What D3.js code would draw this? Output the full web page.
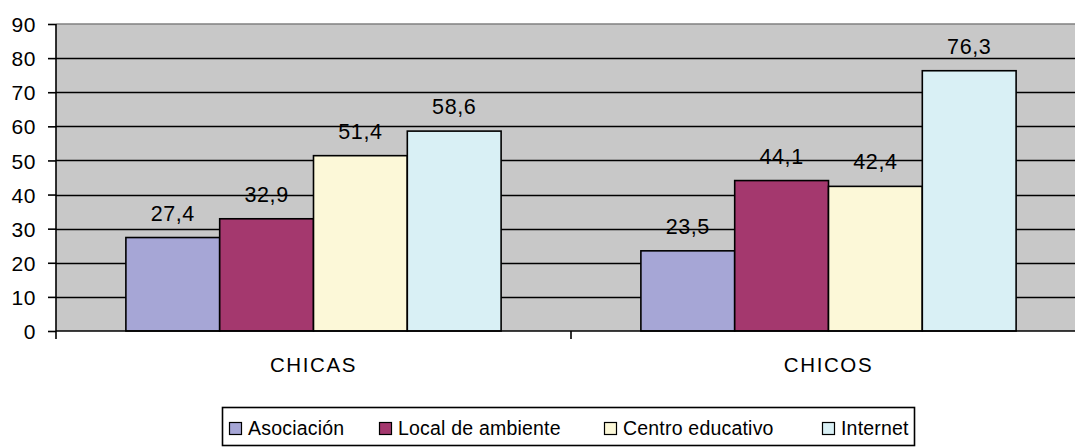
<!DOCTYPE html>
<html><head><meta charset="utf-8">
<script src="https://cdn.jsdelivr.net/npm/d3@7"></script>
<style>body{margin:0;background:#fff;}svg{display:block;font-family:"Liberation Sans",Arial,sans-serif;}</style>
</head><body><svg id="c" width="1075" height="447"></svg>
<script>
const categories = ["CHICAS", "CHICOS"];
const seriesNames = ["Asociación", "Local de ambiente", "Centro educativo", "Internet"];
const asociacion = [27.4, 23.5];
const localAmbiente = [32.9, 44.1];
const centroEducativo = [51.4, 42.4];
const internet = [58.6, 76.3];
const yTicks = [0, 10, 20, 30, 40, 50, 60, 70, 80, 90];
const colors = ["#a6a6d6", "#a4386e", "#fcf8d8", "#d9f0f5"];

const series = [asociacion, localAmbiente, centroEducativo, internet];
const svg = d3.select("#c");
const L = 56, R = 1086, T = 24, B = 331;
const FF = "Liberation Sans, Arial, sans-serif";
const x0 = d3.scaleBand().domain(categories).range([L, R]).paddingInner(0).paddingOuter(0);
const x1 = d3.scaleBand().domain(seriesNames).range([0, x0.bandwidth()]).paddingOuter(0.745).paddingInner(0);
const y = d3.scaleLinear().domain([0, 90]).range([B, T]);

svg.append("rect").attr("x", L).attr("y", T).attr("width", R - L).attr("height", B - T).attr("fill", "#c8c8c8");
svg.append("line").attr("x1", L).attr("x2", R).attr("y1", T).attr("y2", T).attr("stroke", "#808080").attr("stroke-width", 1.5);

// gridlines
svg.append("g").selectAll("line").data(yTicks.filter(d => d > 0 && d < 90)).join("line")
  .attr("x1", L).attr("x2", R).attr("y1", d => Math.round(y(d)) + 0.5).attr("y2", d => Math.round(y(d)) + 0.5)
  .attr("stroke", "#000").attr("stroke-width", 1.6);

// bars
const g = svg.append("g");
categories.forEach((c, ci) => {
  series.forEach((s, si) => {
    const xb = x0(c) + x1(seriesNames[si]);
    g.append("rect").attr("x", xb).attr("y", y(s[ci])).attr("width", x1.bandwidth()).attr("height", B - y(s[ci]))
      .attr("fill", colors[si]).attr("stroke", "#000").attr("stroke-width", 1.6);
    g.append("text").attr("x", xb + x1.bandwidth() / 2).attr("y", y(s[ci]) - 17)
      .attr("text-anchor", "middle").attr("font-size", 21.5).attr("letter-spacing", 0.6).attr("fill", "#000")
      .text(String(s[ci]).replace(".", ","));
  });
});

// y axis
const yAxis = d3.axisLeft(y).tickValues(yTicks).tickSize(8).tickPadding(12).tickFormat(d3.format("d"));
const ya = svg.append("g").attr("transform", `translate(${L},0)`).call(yAxis);
ya.select(".domain").attr("d", `M0,${T}V${B + 8}`).attr("stroke", "#000").attr("stroke-width", 1.6);
ya.selectAll(".tick line").attr("stroke", "#000").attr("stroke-width", 1.6);
ya.selectAll(".tick text").attr("font-size", 21).attr("letter-spacing", 0.6).attr("font-family", FF).attr("fill", "#000").attr("dy", "0.36em");

// x axis
const xa = svg.append("g").attr("transform", `translate(0,${B})`).call(d3.axisBottom(x0).tickSize(0).tickPadding(0));
xa.select(".domain").attr("d", `M${L},0H${R}`).attr("stroke", "#000").attr("stroke-width", 1.6);
xa.selectAll(".tick text").attr("font-size", 20.5).attr("letter-spacing", 1.6).attr("font-family", FF).attr("fill", "#000").attr("dy", 0).attr("y", 41);
svg.append("line").attr("x1", (L + R) / 2).attr("x2", (L + R) / 2).attr("y1", B).attr("y2", B + 8).attr("stroke", "#000").attr("stroke-width", 1.6);

// legend
const lg = svg.append("g");
lg.append("rect").attr("x", 222.5).attr("y", 407.5).attr("width", 692).attr("height", 38).attr("fill", "#fff").attr("stroke", "#000").attr("stroke-width", 1.6);
const legX = [229, 379, 604, 822];
seriesNames.forEach((n, i) => {
  lg.append("rect").attr("x", legX[i] + 0.5).attr("y", 422.5).attr("width", 12).attr("height", 12).attr("fill", colors[i]).attr("stroke", "#000").attr("stroke-width", 1.2);
  lg.append("text").attr("x", legX[i] + 19).attr("y", 435).attr("font-size", 19.5).attr("letter-spacing", 0.2).attr("fill", "#000").text(n);
});
</script></body></html>
